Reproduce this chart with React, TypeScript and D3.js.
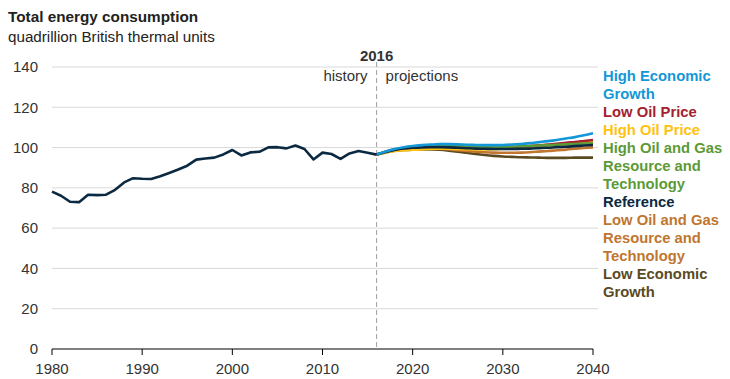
import React from "react";
import * as d3 from "d3";

const histYears = d3.range(1980, 2017);
const histValues = [
  78.1, 76.1, 73.1, 72.9, 76.6, 76.4, 76.6, 79.0, 82.7, 84.8,
  84.5, 84.4, 85.8, 87.4, 89.1, 91.0, 94.0, 94.6, 95.0, 96.6,
  98.8, 96.1, 97.6, 97.9, 100.1, 100.2, 99.6, 101.0, 99.3, 94.1,
  97.5, 96.8, 94.4, 97.1, 98.3, 97.4, 96.5,
];

const projYears = d3.range(2016, 2041);
const highEconomicGrowth = [96.5, 98.0, 99.3, 100.2, 100.8, 101.2, 101.5, 101.7, 101.7, 101.6, 101.4, 101.3, 101.2, 101.2, 101.3, 101.5, 101.8, 102.2, 102.7, 103.2, 103.8, 104.5, 105.2, 106.1, 107.1];
const lowOilPrice = [96.5, 97.9, 99.0, 99.7, 100.2, 100.5, 100.6, 100.6, 100.5, 100.3, 100.1, 99.9, 99.8, 99.8, 99.9, 100.1, 100.4, 100.7, 101.1, 101.5, 101.9, 102.4, 102.8, 103.3, 103.8];
const highOilPrice = [96.5, 97.5, 98.3, 98.7, 98.9, 99.1, 99.3, 99.4, 99.4, 99.3, 99.2, 99.1, 99.1, 99.2, 99.4, 99.6, 99.9, 100.2, 100.6, 101.0, 101.4, 101.8, 102.2, 102.6, 102.9];
const highOilGas = [96.5, 97.9, 99.1, 99.8, 100.3, 100.6, 100.8, 100.9, 100.8, 100.7, 100.5, 100.4, 100.4, 100.4, 100.4, 100.5, 100.6, 100.8, 101.0, 101.2, 101.4, 101.6, 101.8, 102.0, 102.1];
const reference = [96.5, 97.8, 98.8, 99.5, 99.9, 100.1, 100.2, 100.2, 100.1, 99.9, 99.7, 99.5, 99.4, 99.3, 99.3, 99.3, 99.4, 99.5, 99.7, 99.9, 100.2, 100.4, 100.7, 101.0, 101.3];
const lowOilGas = [96.5, 97.7, 98.7, 99.2, 99.5, 99.6, 99.6, 99.4, 99.1, 98.7, 98.3, 98.0, 97.7, 97.5, 97.4, 97.4, 97.5, 97.7, 98.0, 98.3, 98.7, 99.0, 99.4, 99.8, 100.1];
const lowEconomicGrowth = [96.5, 97.6, 98.4, 98.8, 99.0, 99.1, 99.1, 98.9, 98.5, 98.0, 97.4, 96.8, 96.3, 95.9, 95.6, 95.4, 95.2, 95.1, 95.0, 94.9, 94.9, 94.9, 95.0, 95.0, 95.0];

const xTicks = [1980, 1990, 2000, 2010, 2020, 2030, 2040];
const yTicks = [0, 20, 40, 60, 80, 100, 120, 140];

const series = [
  { name: "Low Economic Growth", values: lowEconomicGrowth, color: "#5b4a1f" },
  { name: "Low Oil and Gas Resource and Technology", values: lowOilGas, color: "#c0762f" },
  { name: "High Oil Price", values: highOilPrice, color: "#ffc20e" },
  { name: "Low Oil Price", values: lowOilPrice, color: "#a4212f" },
  { name: "High Oil and Gas Resource and Technology", values: highOilGas, color: "#5c9a37" },
  { name: "Reference", values: reference, color: "#0b2a42" },
  { name: "High Economic Growth", values: highEconomicGrowth, color: "#1497d7" },
];

const legendItems = [
  { lines: ["High Economic", "Growth"], color: "#1497d7" },
  { lines: ["Low Oil Price"], color: "#a4212f" },
  { lines: ["High Oil Price"], color: "#ffc20e" },
  { lines: ["High Oil and Gas", "Resource and", "Technology"], color: "#5c9a37" },
  { lines: ["Reference"], color: "#0b2a42" },
  { lines: ["Low Oil and Gas", "Resource and", "Technology"], color: "#c0762f" },
  { lines: ["Low Economic", "Growth"], color: "#5b4a1f" },
];

export default function App() {
  const W = 730, H = 379;
  const x = d3.scaleLinear().domain([1980, 2040]).range([52, 593]);
  const y = d3.scaleLinear().domain([0, 140]).range([349, 67]);
  const font = "'Liberation Sans', Arial, sans-serif";

  const histLine = d3.line<number>().x((_, i) => x(histYears[i])).y((d) => y(d));
  const projLine = d3.line<number>().x((_, i) => x(projYears[i])).y((d) => y(d)).curve(d3.curveMonotoneX);

  let legendRow = 0;
  const legendStart = 81;
  const legendStep = 18;

  return (
    <svg width={W} height={H} style={{ position: "absolute", left: 0, top: 0, background: "#fff" }} fontFamily={font}>
      <text x={8} y={22} fontSize={15.3} fontWeight="bold" fill="#222">Total energy consumption</text>
      <text x={8} y={42} fontSize={15.2} fill="#222">quadrillion British thermal units</text>

      {yTicks.map((t) => (
        <g key={t}>
          {t > 0 && <line x1={52} x2={598} y1={y(t)} y2={y(t)} stroke="#d9d9d9" strokeWidth={1} />}
          <text x={38} y={y(t)} dy="0.35em" textAnchor="end" fontSize={15} fill="#333">{t}</text>
        </g>
      ))}

      <line x1={x(2016)} x2={x(2016)} y1={62} y2={349} stroke="#a0a0a0" strokeWidth={1} strokeDasharray="5,3" />
      <text x={x(2016)} y={61} textAnchor="middle" fontSize={15} fontWeight="bold" fill="#333">2016</text>
      <text x={x(2016) - 9} y={81} textAnchor="end" fontSize={15} fill="#333">history</text>
      <text x={x(2016) + 9} y={81} textAnchor="start" fontSize={15} fill="#333">projections</text>

      <line x1={52} x2={593} y1={349} y2={349} stroke="#000" strokeWidth={1} />
      {xTicks.map((t) => (
        <g key={t}>
          <line x1={x(t)} x2={x(t)} y1={349} y2={355} stroke="#000" strokeWidth={1} />
          <text x={x(t)} y={374} textAnchor="middle" fontSize={15} fill="#333">{t}</text>
        </g>
      ))}

      {series.map((s) => (
        <path key={s.name} d={projLine(s.values) || ""} fill="none" stroke={s.color} strokeWidth={2.6} strokeLinejoin="round" />
      ))}
      <path d={histLine(histValues) || ""} fill="none" stroke="#0b2a42" strokeWidth={2.6} strokeLinejoin="round" />

      {legendItems.map((item) =>
        item.lines.map((ln) => {
          const yy = legendStart + legendRow * legendStep;
          legendRow += 1;
          return (
            <text key={ln + yy} x={603} y={yy} fontSize={14.8} fontWeight="bold" fill={item.color}>{ln}</text>
          );
        })
      )}
    </svg>
  );
}
